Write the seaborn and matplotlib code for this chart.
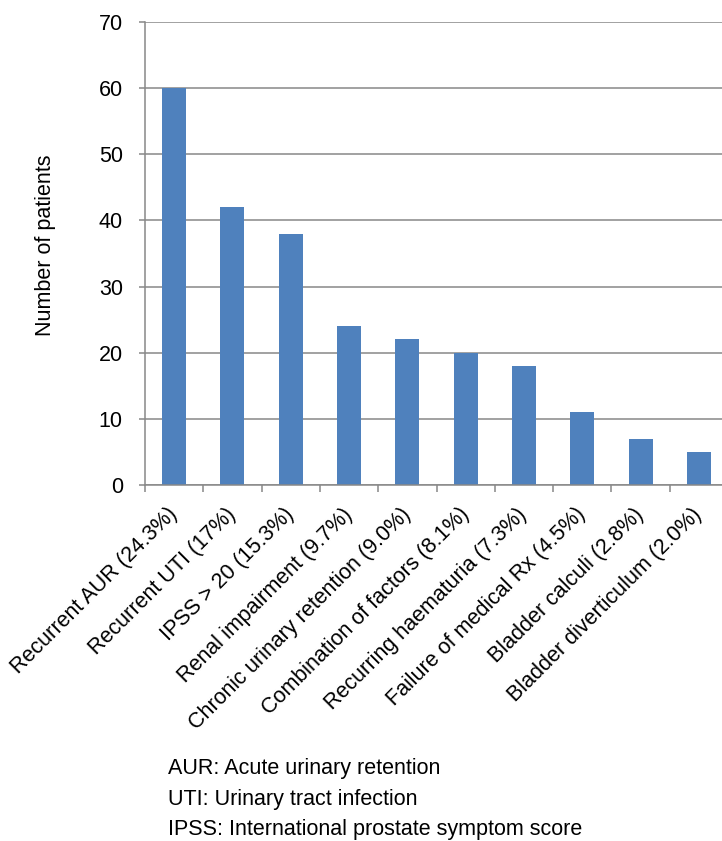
import matplotlib
matplotlib.use("Agg")
import matplotlib.pyplot as plt
import seaborn as sns
import pandas as pd

categories = ["Recurrent AUR (24.3%)", "Recurrent UTI (17%)", "IPSS > 20 (15.3%)",
              "Renal impairment (9.7%)", "Chronic urinary retention (9.0%)",
              "Combination of factors (8.1%)", "Recurring haematuria (7.3%)",
              "Failure of medical Rx (4.5%)", "Bladder calculi (2.8%)",
              "Bladder diverticulum (2.0%)"]
patients = [60, 42, 38, 24, 22, 20, 18, 11, 7, 5]
y_ticks = [0, 10, 20, 30, 40, 50, 60, 70]
footnotes = ["AUR: Acute urinary retention",
             "UTI: Urinary tract infection",
             "IPSS: International prostate symptom score"]

sns.set_theme(style="white")
plt.rcParams['font.family'] = ['Liberation Sans', 'DejaVu Sans']

FS = 15.5
W, H = 722, 841
fig = plt.figure(figsize=(W/100, H/100), dpi=100)
left, right, top, bottom = 145, 728, 22, 485
ax = fig.add_axes([left/W, 1-bottom/H, (right-left)/W, (bottom-top)/H])

df = pd.DataFrame({"cat": categories, "n": patients})
sns.barplot(data=df, x="cat", y="n", ax=ax, color="#4F81BD", saturation=1,
            width=0.41, zorder=3, linewidth=0, edgecolor="none")

grid_c = "#888888"
ax.set_ylim(0, 70)
ax.set_xlim(-0.5, len(categories)-0.5)
ax.set_yticks(y_ticks)
ax.yaxis.grid(True, color=grid_c, linewidth=1.1, zorder=0)
ax.xaxis.grid(False)
for s in ["top", "right"]:
    ax.spines[s].set_visible(False)
for s in ["left", "bottom"]:
    ax.spines[s].set_color(grid_c)
    ax.spines[s].set_linewidth(1.1)
    ax.spines[s].set_zorder(4)

ax.tick_params(axis="y", which="major", direction="out", length=4, width=1.1,
               color=grid_c, labelsize=FS, pad=12, left=True, labelcolor="black")
ax.set_xticks([i + 0.5 for i in range(-1, len(categories))], minor=True)
ax.tick_params(axis="x", which="minor", direction="out", length=5, width=1.1,
               color=grid_c, bottom=True)
ax.tick_params(axis="x", which="major", length=0, pad=19, labelsize=FS,
               labelcolor="black")
ax.set_xticks(range(len(categories)))
ax.set_xticklabels(categories, rotation=45, ha="right", va="center",
                   rotation_mode="anchor")

ax.set_xlabel("")
ax.set_ylabel("Number of patients", fontsize=FS, color="black")
ax.yaxis.set_label_coords(-0.153, 0.518)

ys = [774, 805, 835]
for t, yy in zip(footnotes, ys):
    fig.text(168/W, 1-yy/H, t, fontsize=FS, va="baseline", ha="left", color="black")

fig.savefig("out.png", dpi=100)
